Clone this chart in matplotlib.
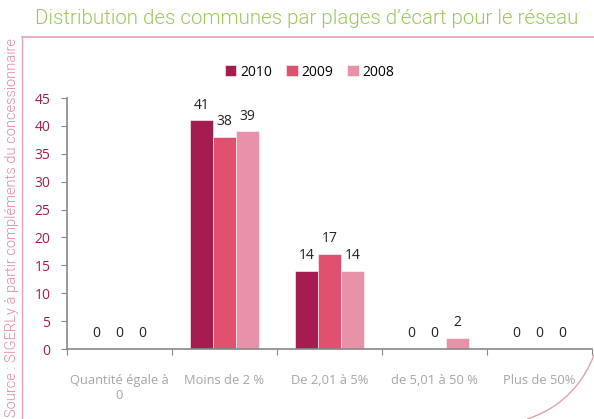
import matplotlib
matplotlib.use("Agg")
import matplotlib.pyplot as plt
import numpy as np
from matplotlib.patches import PathPatch
from matplotlib.path import Path
from matplotlib.lines import Line2D

categories = ["Quantité égale à\n0", "Moins de 2 %", "De 2,01 à 5%", "de 5,01 à 50 %", "Plus de 50%"]
series_names = ["2010", "2009", "2008"]
values_2010 = [0, 41, 14, 0, 0]
values_2009 = [0, 38, 17, 0, 0]
values_2008 = [0, 39, 14, 2, 0]
colors = ["#A51D50", "#E0506F", "#E792A8"]
title = "Distribution des communes par plages d\u2019écart pour le réseau"
source = "Source : SIGERLy à partir compléments du concessionnaire"

plt.rcParams["font.family"] = ["Open Sans", "DejaVu Sans"]

fig = plt.figure(figsize=(5.94, 4.19), dpi=100)
ax = fig.add_axes([67/594, 1-349/419, (592-67)/594, (349-98)/419])

x = np.arange(len(categories))
w = 0.219
series = [values_2010, values_2009, values_2008]
for i, (name, vals, c) in enumerate(zip(series_names, series, colors)):
    pos = x + (i - 1) * w
    ax.bar(pos, vals, width=w, color=c, label=name, edgecolor="white", linewidth=0.4)
    for p, v in zip(pos, vals):
        ax.text(p, v + 1.4, str(v), ha="center", va="bottom", fontsize=10, color="#222222")

ax.set_xlim(-0.5, len(categories) - 0.5)
ax.set_ylim(0, 45)
ax.set_yticks(range(0, 46, 5))
ax.set_xticks(np.arange(-0.5, len(categories), 1.0))
ax.set_xticklabels([])
ax.set_xticks(x, minor=True)
ax.set_xticklabels(categories, minor=True, fontsize=9.3, color="#A6A6A6")
ax.tick_params(axis="x", which="minor", length=0, pad=18)
ax.tick_params(axis="x", which="major", length=4, color="#888888")
ax.tick_params(axis="y", length=4, color="#888888", labelcolor="#A51D50", labelsize=10, pad=8)
for s in ["top", "right"]:
    ax.spines[s].set_visible(False)
for s in ["left", "bottom"]:
    ax.spines[s].set_color("#888888")
    ax.spines[s].set_linewidth(1.2)

fig.legend(loc="center", bbox_to_anchor=(310/594, 1-72/419), ncol=3, frameon=False,
           fontsize=10, handlelength=0.8, handleheight=0.8, handletextpad=0.3,
           columnspacing=1.0)

fig.text(578/594, 1-19/419, title, ha="right", va="center", fontsize=14.8,
         color="#9CC85C", family=["Roboto", "DejaVu Sans"], fontweight=300)
fig.text(12/594, 1-228/419, source, rotation=90, ha="center", va="center",
         fontsize=10.5, color="#E08AA0", family=["Roboto", "DejaVu Sans"], fontweight=300)

# decorative frame
fig.add_artist(Line2D([22/594, 1.0], [1-37/419, 1-37/419], color="#E8A2B4", lw=1.2))
fig.add_artist(Line2D([22/594, 22/594], [0, 1-37/419], color="#E8A2B4", lw=1.0))
verts = [(527/594, 0.0), (565/594, 12/419), (585/594, 40/419), (594/594, 64/419)]
path = Path(verts, [Path.MOVETO, Path.CURVE4, Path.CURVE4, Path.CURVE4])
fig.add_artist(PathPatch(path, fill=False, edgecolor="#E0A0B0", lw=1.0,
                         transform=fig.transFigure))

fig.savefig("out.png", dpi=100)
